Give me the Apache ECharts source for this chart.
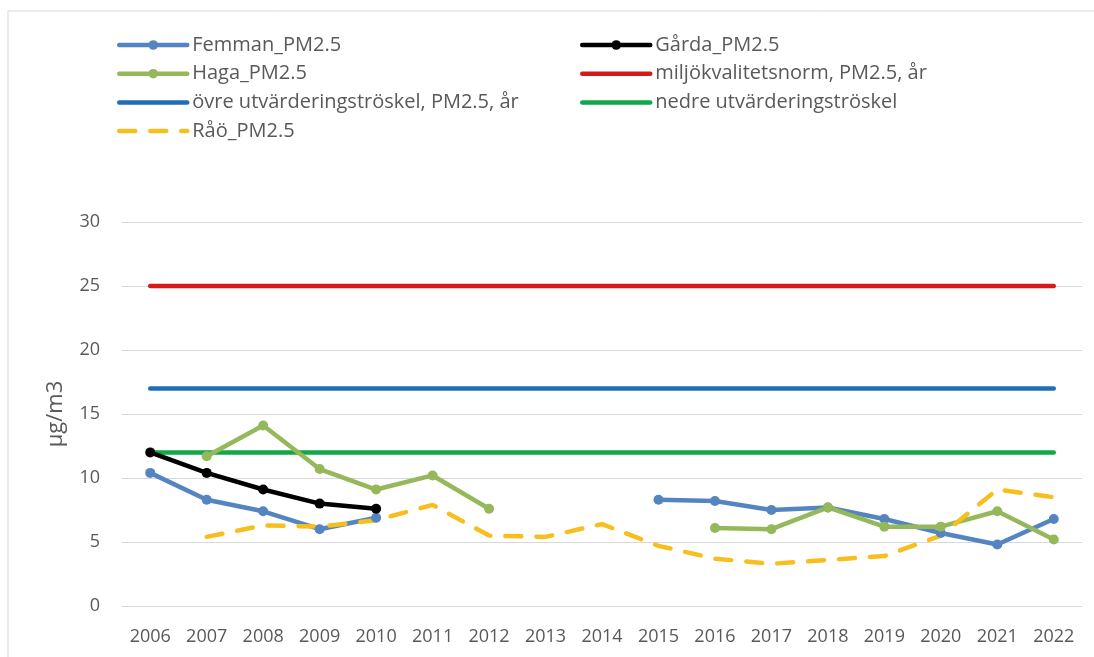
<!DOCTYPE html>
<html>
<head>
<meta charset="utf-8">
<script src="https://cdn.jsdelivr.net/npm/echarts@6/dist/echarts.min.js"></script>
<style>
  html, body { margin: 0; padding: 0; background: #fff; }
  #chart { width: 1094px; height: 657px; }
</style>
</head>
<body>
<div id="chart"></div>
<script>
// årtal på x-axeln
var years = ['2006','2007','2008','2009','2010','2011','2012','2013','2014',
             '2015','2016','2017','2018','2019','2020','2021','2022'];

// mätvärden, PM2.5 (µg/m3), null = saknas
var femman = [10.4, 8.3, 7.4, 6.0, 6.9, null, null, null, null, 8.3, 8.2, 7.5, 7.7, 6.8, 5.7, 4.8, 6.8];
var garda  = [12.0, 10.4, 9.1, 8.0, 7.6, null, null, null, null, null, null, null, null, null, null, null, null];
var haga   = [null, 11.7, 14.1, 10.7, 9.1, 10.2, 7.6, null, null, null, 6.1, 6.0, 7.7, 6.2, 6.2, 7.4, 5.2];
var rao    = [null, 5.4, 6.3, 6.2, 6.7, 7.9, 5.5, 5.4, 6.4, 4.7, 3.7, 3.3, 3.6, 3.9, 5.5, 9.1, 8.5];

// gränsvärden
var norm  = [25, 25, 25, 25, 25, 25, 25, 25, 25, 25, 25, 25, 25, 25, 25, 25, 25];
var ovre  = [17, 17, 17, 17, 17, 17, 17, 17, 17, 17, 17, 17, 17, 17, 17, 17, 17];
var nedre = [12, 12, 12, 12, 12, 12, 12, 12, 12, 12, 12, 12, 12, 12, 12, 12, 12];

var leftNames  = ['Femman_PM2.5', 'Haga_PM2.5', 'övre utvärderingströskel, PM2.5, år', 'Råö_PM2.5'];
var rightNames = ['Gårda_PM2.5', 'miljökvalitetsnorm, PM2.5, år', 'nedre utvärderingströskel'];
// serier utan punkter i förklaringen
var noMarker = ['övre utvärderingströskel, PM2.5, år', 'Råö_PM2.5',
                'miljökvalitetsnorm, PM2.5, år', 'nedre utvärderingströskel'];

var txtColor = '#595959';
var fontFam = '"Open Sans", "DejaVu Sans", sans-serif';

function measured(name, data, color) {
    return {
        name: name,
        type: 'line',
        data: data,
        symbol: 'circle',
        symbolSize: 10,
        connectNulls: false,
        z: 3,
        lineStyle: { width: 4.5, color: color, cap: 'round', join: 'round' },
        itemStyle: { color: color }
    };
}
function limit(name, data, color) {
    return {
        name: name,
        type: 'line',
        data: data,
        symbol: 'none',
        z: 2,
        lineStyle: { width: 4.5, color: color, cap: 'round' },
        itemStyle: { color: color }
    };
}
function legendItems(names) {
    return names.map(function (n) {
        if (noMarker.indexOf(n) >= 0) {
            return { name: n, itemStyle: { opacity: 0 } };
        }
        return { name: n };
    });
}

var legendBase = {
    orient: 'vertical',
    top: 30,
    itemWidth: 68,
    itemHeight: 12,
    itemGap: 8.7,
    lineStyle: { width: 4.5 },
    textStyle: { color: txtColor, fontSize: 20, fontFamily: fontFam }
};

var option = {
    backgroundColor: '#fff',
    animation: false,
    graphic: [{
        type: 'polyline',
        shape: { points: [[8, 657], [8, 11], [1094, 11]] },
        style: { stroke: '#d9d9d9', lineWidth: 1, fill: null },
        silent: true
    }],
    legend: [
        Object.assign({}, legendBase, { left: 112, itemTextGap: 1, data: legendItems(leftNames) }),
        Object.assign({}, legendBase, { left: 575, itemTextGap: 4, data: legendItems(rightNames) })
    ],
    grid: { left: 122, right: 12, top: 222, bottom: 51 },
    xAxis: {
        type: 'category',
        data: years,
        boundaryGap: true,
        axisLine: { show: false },
        axisTick: { show: false },
        axisLabel: { color: txtColor, fontSize: 18, fontFamily: fontFam, margin: 22 }
    },
    yAxis: {
        type: 'value',
        min: 0,
        max: 30,
        interval: 5,
        name: 'µg/m3',
        nameLocation: 'middle',
        nameRotate: 90,
        nameGap: 55,
        nameTextStyle: { color: txtColor, fontSize: 22, fontFamily: fontFam },
        axisLine: { show: false },
        axisTick: { show: false },
        axisLabel: { color: txtColor, fontSize: 18, fontFamily: fontFam, margin: 22 },
        splitLine: { lineStyle: { color: '#d9d9d9', width: 1 } }
    },
    series: [
        limit('miljökvalitetsnorm, PM2.5, år', norm, '#d7191c'),
        limit('övre utvärderingströskel, PM2.5, år', ovre, '#1f6fb5'),
        limit('nedre utvärderingströskel', nedre, '#11a84a'),
        measured('Femman_PM2.5', femman, '#5585c1'),
        measured('Haga_PM2.5', haga, '#94b85a'),
        {
            name: 'Råö_PM2.5',
            type: 'line',
            data: rao,
            symbol: 'none',
            z: 3,
            lineStyle: { width: 4.5, color: '#f7bf1e', type: [16, 15], cap: 'round' },
            itemStyle: { color: '#f7bf1e' }
        },
        measured('Gårda_PM2.5', garda, '#000000')
    ]
};

var chart = echarts.init(document.getElementById('chart'));
chart.setOption(option);
</script>
</body>
</html>
